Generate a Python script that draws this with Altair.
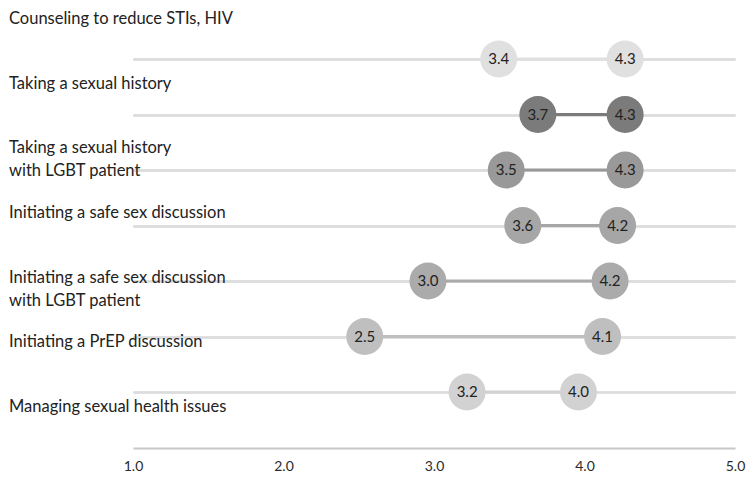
import altair as alt
import pandas as pd

categories = [
    "Counseling to reduce STIs, HIV",
    "Taking a sexual history",
    "Taking a sexual history\nwith LGBT patient",
    "Initiating a safe sex discussion",
    "Initiating a safe sex discussion\nwith LGBT patient",
    "Initiating a PrEP discussion",
    "Managing sexual health issues",
]
low_values = [3.43, 3.69, 3.48, 3.59, 2.96, 2.54, 3.22]
high_values = [4.27, 4.27, 4.27, 4.22, 4.17, 4.12, 3.96]
row_colors = ["#e0e0e0", "#7b7b7b", "#999999", "#a6a6a6", "#ababab", "#bfbfbf", "#d2d2d2"]
x_ticks = [1, 2, 3, 4, 5]

rows = [f"r{i}" for i in range(len(categories))]
wide = pd.DataFrame({"row": rows, "label": categories, "low": low_values, "high": high_values})
long = pd.concat([
    pd.DataFrame({"row": rows, "value": low_values}),
    pd.DataFrame({"row": rows, "value": high_values}),
])

FONT = "Lato"
color_scale = alt.Scale(domain=rows, range=row_colors)
y_pts = alt.Y("row:N", sort=rows,
              scale=alt.Scale(type="point", domain=rows, range=[51, 384], padding=0),
              axis=alt.Axis(title=None, labels=False, ticks=False, domain=False,
                            grid=True, gridColor="#dcdcdc", gridWidth=2))
x_axis = alt.Axis(title=None, values=x_ticks, format=".1f", grid=False, ticks=False,
                  domainColor="#c8c8c8", domainWidth=2, labelFontSize=14,
                  labelColor="#2a2a2a", labelPadding=11, labelFont=FONT, labelFlush=False)
x_scale = alt.Scale(domain=[1, 5], nice=False, zero=False)
x_enc = alt.X("value:Q", scale=x_scale, axis=x_axis)

rules = alt.Chart(wide).mark_rule(strokeWidth=3).encode(
    x=alt.X("low:Q", scale=x_scale, axis=x_axis),
    x2="high:Q",
    y=y_pts,
    color=alt.Color("row:N", scale=color_scale, legend=None),
)

dots = alt.Chart(long).mark_circle(size=1370, opacity=1).encode(
    x=x_enc,
    y=y_pts,
    color=alt.Color("row:N", scale=color_scale, legend=None),
)

dot_text = alt.Chart(long).mark_text(fontSize=15, font=FONT, color="#222222").encode(
    x=x_enc,
    y=y_pts,
    text=alt.Text("value:Q", format=".1f"),
)

cat_text = alt.Chart(wide).mark_text(
    align="left", baseline="middle", fontSize=16.5, font=FONT, color="#222222",
    lineBreak="\n", lineHeight=23, x=-124,
).encode(
    y=alt.Y("row:N", sort=rows,
            scale=alt.Scale(type="point", domain=rows, range=[11, 399], padding=0),
            axis=None),
    text="label:N",
)

chart = alt.layer(rules, dots, dot_text, cat_text).resolve_scale(y="independent").properties(
    width=602, height=440,
    autosize=alt.AutoSizeParams(type="none"),
    padding={"left": 125, "top": 0, "right": 11, "bottom": 30},
).configure_view(stroke=None)

chart.save("out.html", embed_options={"renderer": "svg", "actions": False})
